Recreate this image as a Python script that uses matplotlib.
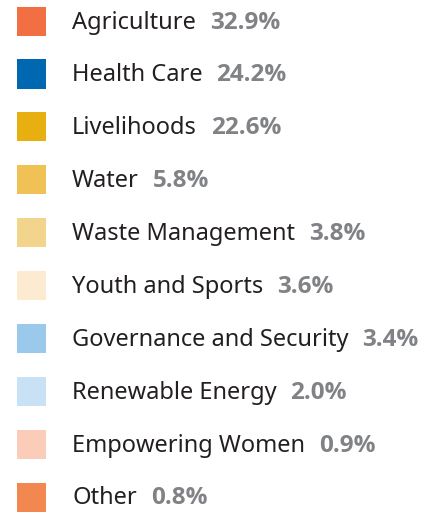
import matplotlib
matplotlib.use("Agg")
import matplotlib.pyplot as plt
from matplotlib.patches import Rectangle

# legend data
categories = ["Agriculture", "Health Care", "Livelihoods", "Water", "Waste Management",
              "Youth and Sports", "Governance and Security", "Renewable Energy",
              "Empowering Women", "Other"]
shares = [32.9, 24.2, 22.6, 5.8, 3.8, 3.6, 3.4, 2.0, 0.9, 0.8]
colors = ["#F26E43", "#0067B1", "#E8AF10", "#F0C255", "#F3D48D",
          "#FCEBD0", "#9BC9EC", "#C9E1F4", "#FBCDB8", "#F2884F"]

fig = plt.figure(figsize=(4.40, 5.14), dpi=100)
ax = fig.add_axes([0, 0, 1, 1])
ax.set_xlim(0, 440)
ax.set_ylim(9.32, -0.40)
ax.axis("off")

box = 0.55
base = 0.14  # baseline offset below the square centre
for i, (cat, val, col) in enumerate(zip(categories, shares, colors)):
    ax.add_patch(Rectangle((17, i - box / 2), 29, box, facecolor=col, edgecolor="none"))
    t = ax.text(72, i + base, cat, fontsize=17, color="#231F20", va="baseline",
                family="Noto Sans")
    ax.annotate(f"{val:.1f}%", xy=(1, i + base), xycoords=(t, "data"), xytext=(10, 0),
                textcoords="offset points", va="baseline", ha="left",
                fontsize=17.5, fontweight="bold", color="#808285", family="Open Sans")

fig.savefig("out.png", dpi=100)
